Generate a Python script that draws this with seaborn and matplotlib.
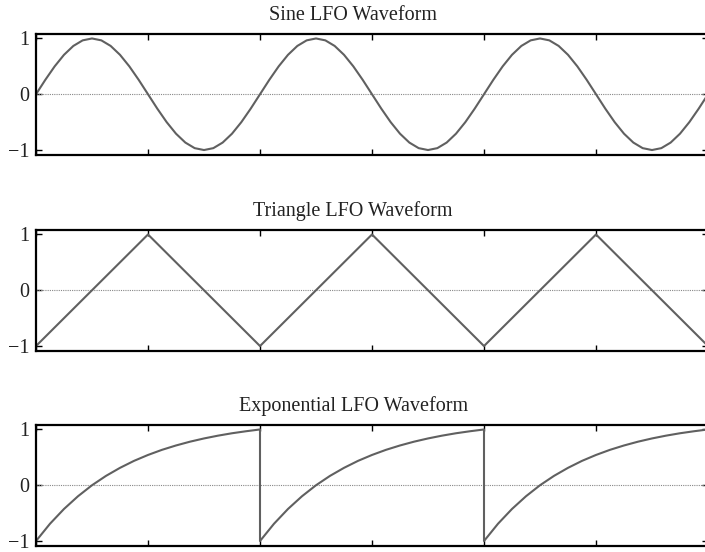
import numpy as np
import pandas as pd
import matplotlib
matplotlib.use("Agg")
import matplotlib.pyplot as plt
import seaborn as sns

# ---- data ----
titles = ["Sine LFO Waveform", "Triangle LFO Waveform", "Exponential LFO Waveform"]
n_periods = 3
period_len = 2.0          # in x-tick units
x_ticks = [0, 1, 2, 3, 4, 5, 6]
y_ticks = [-1, 0, 1]
y_tick_labels = ["\u22121", "0", "1"]

# one period of the sine LFO, sampled every 1/24 period
sine_period = [0.0, 0.259, 0.5, 0.707, 0.866, 0.966, 1.0, 0.966, 0.866, 0.707, 0.5, 0.259,
               0.0, -0.259, -0.5, -0.707, -0.866, -0.966, -1.0, -0.966, -0.866, -0.707, -0.5, -0.259]
# triangle LFO vertices (one per half period)
triangle_vertices = [-1, 1, -1, 1, -1, 1, -1]
# one period of the exponential LFO, sampled every 1/16 period (includes endpoint)
exp_period = [-1.0, -0.69, -0.425, -0.197, 0.0, 0.168, 0.312, 0.437, 0.543, 0.635,
              0.713, 0.781, 0.839, 0.889, 0.932, 0.968, 1.0]

# ---- build tables ----
def sine_df():
    n = len(sine_period)
    ys = sine_period * n_periods + [sine_period[0]]
    xs = [i * period_len / n for i in range(len(ys))]
    return pd.DataFrame({"x": xs, "y": ys})

def tri_df():
    xs = [i * period_len / 2 for i in range(len(triangle_vertices))]
    return pd.DataFrame({"x": xs, "y": triangle_vertices})

def exp_df():
    n = len(exp_period) - 1
    xs, ys = [], []
    for k in range(n_periods):
        for i, v in enumerate(exp_period):
            xs.append(k * period_len + i * period_len / n)
            ys.append(v)
    return pd.DataFrame({"x": xs, "y": ys})

frames = [sine_df(), tri_df(), exp_df()]

sns.set_style("white")
plt.rcParams["font.family"] = ["Liberation Serif", "DejaVu Serif"]

W, H = 705, 552
fig = plt.figure(figsize=(W / 100, H / 100), dpi=100)

left_px, right_px = 36, 708
tops = [34, 230, 425]
height_px = 120.5

for ax_i, (df, title, top) in enumerate(zip(frames, titles, tops)):
    ax = fig.add_axes([left_px / W, 1 - (top + height_px) / H,
                       (right_px - left_px) / W, height_px / H])
    ax.axhline(0, color="#888888", lw=0.8, ls=(0, (1, 1)), zorder=1)
    sns.lineplot(data=df, x="x", y="y", ax=ax, estimator=None, sort=False,
                 color="#606060", lw=1.5, zorder=2)
    ax.set_xlim(0, 6)
    ax.set_ylim(-1.08, 1.08)
    ax.set_xticks(x_ticks)
    ax.set_xticklabels([])
    ax.set_yticks(y_ticks)
    ax.set_yticklabels(y_tick_labels, fontsize=14.5, color="#222222")
    ax.set_xlabel("")
    ax.set_ylabel("")
    ax.tick_params(direction="in", length=4, width=1, color="black",
                   top=True, bottom=True, left=True, right=True, pad=5)
    for s in ax.spines.values():
        s.set_visible(True)
        s.set_color("black")
        s.set_linewidth(1.6)
    ax.set_title(title, fontsize=14.5, x=0.472, pad=10, color="#222222")

fig.savefig("out.png", dpi=100)
